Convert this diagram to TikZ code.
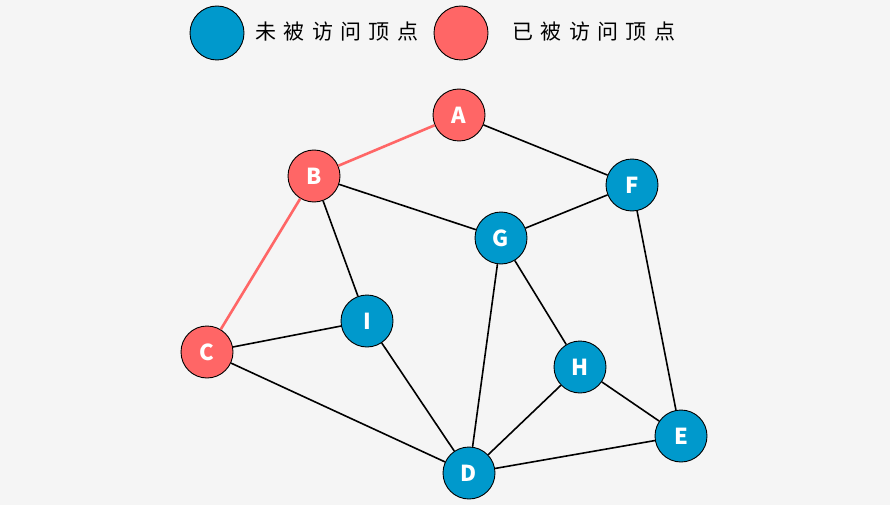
\documentclass[tikz,border=0pt]{standalone}
\usepackage{fontspec}
\newfontfamily\cjk{Noto Sans CJK SC}
\newfontfamily\cjkspaced[LetterSpace=35]{Noto Sans CJK SC}
\definecolor{bg}{HTML}{F5F5F5}
\definecolor{unvisited}{HTML}{0099CC}
\definecolor{visited}{HTML}{FF6666}
\tikzset{
    vert/.style={circle, draw=black, line width=0.9pt, minimum size=52pt, inner sep=0pt,
        text=white, font=\cjk\bfseries\fontsize{22}{22}\selectfont},
    edge/.style={line width=1.6pt, black},
    redge/.style={line width=2.6pt, visited},
}
\begin{document}
\begin{tikzpicture}[x=1pt, y=-1pt]
    % 背景
    \fill[bg] (0,0) rectangle (890,505);
    \useasboundingbox (0,0) rectangle (890,505);

    % 图例
    \node[vert, fill=unvisited, minimum size=54pt] (legU) at (217,33) {};
    \node[anchor=west, font=\cjkspaced\fontsize{21}{21}\selectfont] (legUt) at (252,32) {未被访问顶点};
    \node[vert, fill=visited, minimum size=54pt] (legV) at (461,33) {};
    \node[anchor=west, font=\cjkspaced\fontsize{21}{21}\selectfont] (legVt) at (509,32) {已被访问顶点};

    % 顶点
    \node[vert, fill=visited] (A) at (459,115) {A};
    \node[vert, fill=visited] (B) at (314,176) {B};
    \node[vert, fill=visited] (C) at (207,352) {C};
    \node[vert, fill=unvisited] (D) at (469,473) {D};
    \node[vert, fill=unvisited] (E) at (681,436) {E};
    \node[vert, fill=unvisited] (F) at (632,185) {F};
    \node[vert, fill=unvisited] (G) at (501,238) {G};
    \node[vert, fill=unvisited] (H) at (580,367) {H};
    \node[vert, fill=unvisited] (I) at (367,321) {I};

    % 边
    \draw[redge] (A) -- (B);
    \draw[redge] (B) -- (C);
    \draw[edge] (A) -- (F);
    \draw[edge] (B) -- (G);
    \draw[edge] (B) -- (I);
    \draw[edge] (C) -- (I);
    \draw[edge] (C) -- (D);
    \draw[edge] (I) -- (D);
    \draw[edge] (G) -- (F);
    \draw[edge] (G) -- (D);
    \draw[edge] (G) -- (H);
    \draw[edge] (H) -- (D);
    \draw[edge] (H) -- (E);
    \draw[edge] (F) -- (E);
    \draw[edge] (D) -- (E);
\end{tikzpicture}
\end{document}
